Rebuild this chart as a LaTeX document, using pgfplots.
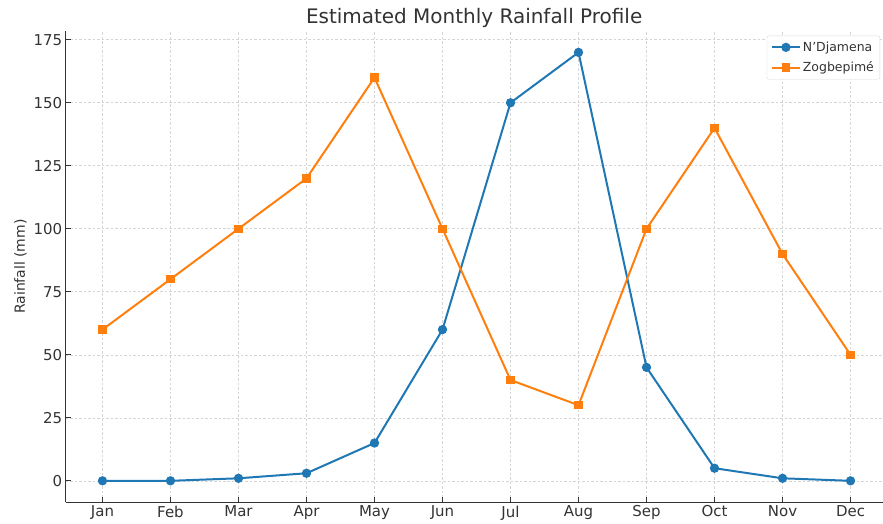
\documentclass[border=0pt]{standalone}
\usepackage{pgfplots}
\pgfplotsset{compat=1.18}
\usepackage{fontspec}
\setmainfont{DejaVu Sans}
\definecolor{tabblue}{HTML}{1F77B4}
\definecolor{taborange}{HTML}{FF7F0E}
\definecolor{txt}{HTML}{333333}
\begin{document}
\begin{tikzpicture}
\begin{axis}[
  scale only axis,
  width=818pt, height=472pt,
  xmin=-0.54, xmax=11.47,
  ymin=-8.5, ymax=178.5,
  axis lines*=left,
  axis line style={txt, line width=1pt},
  xtick={0,...,11},
  xticklabels={Jan,Feb,Mar,Apr,May,Jun,Jul,Aug,Sep,Oct,Nov,Dec},
  ytick={0,25,50,75,100,125,150,175},
  tick align=inside,
  major tick length=5pt,
  tick style={txt, line width=0.8pt},
  grid=major,
  grid style={dash pattern=on 2.5pt off 2pt, gray!32, line width=0.6pt},
  ticklabel style={font=\fontsize{15}{18}\selectfont, text=txt},
  /pgf/number format/assume math mode=true,
  ylabel={Rainfall (mm)},
  ylabel style={font=\fontsize{14}{16}\selectfont, text=txt},
  title={Estimated Monthly Rainfall Profile},
  title style={font=\fontsize{20}{24}\selectfont, text=txt, yshift=-6.5pt},
  legend style={font=\fontsize{12.5}{15}\selectfont, text=txt, draw=gray!30, rounded corners=2pt, at={(0.997,0.99)}, anchor=north east, inner sep=4pt, row sep=5pt},
  legend cell align=left,
  legend image code/.code={
    \draw[mark repeat=2,mark phase=2,#1] plot coordinates {(0pt,0pt) (14pt,0pt) (28pt,0pt)};
  },
]
\addplot[tabblue, line width=2pt, mark=*, mark size=3.6pt, mark options={solid}] coordinates {
(0,0) (1,0) (2,1) (3,3) (4,15) (5,60) (6,150) (7,170) (8,45) (9,5) (10,1) (11,0)};
\addlegendentry{N'Djamena}
\addplot[taborange, line width=2pt, mark=square*, mark size=3.2pt, mark options={solid}] coordinates {
(0,60) (1,80) (2,100) (3,120) (4,160) (5,100) (6,40) (7,30) (8,100) (9,140) (10,90) (11,50)};
\addlegendentry{Zogbepimé}
\coordinate (tr) at (rel axis cs:1,1);
\end{axis}
\path (current bounding box.west) ++(-11pt,0) coordinate (padl);
\path (current bounding box.south) coordinate (padb);
\path[use as bounding box] (padl |- padb) rectangle ([yshift=31pt]tr);
\end{tikzpicture}
\end{document}
